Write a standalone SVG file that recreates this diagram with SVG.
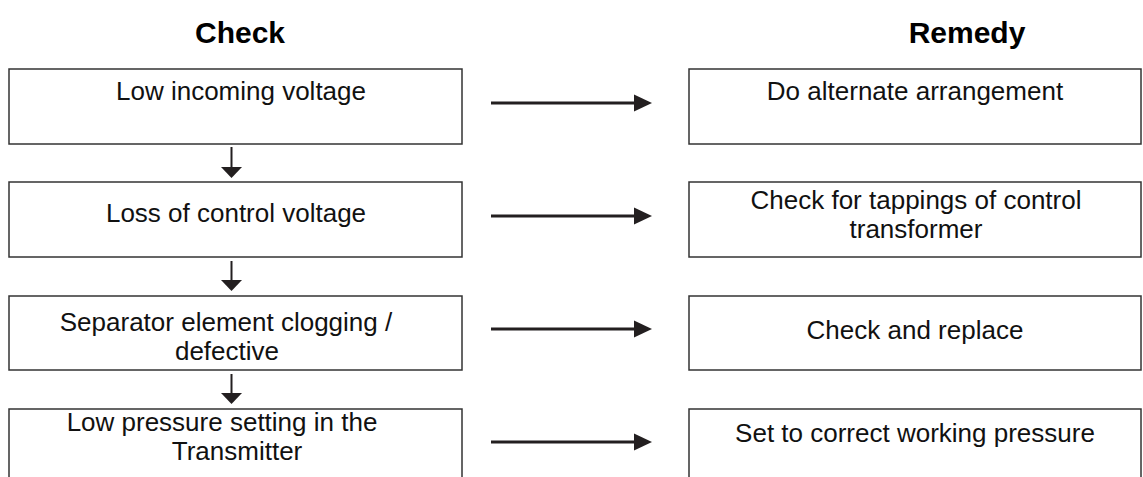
<svg xmlns="http://www.w3.org/2000/svg" width="1143" height="477" viewBox="0 0 1143 477">
<style>
.box{fill:#fff;stroke:#333;stroke-width:1.5}
.t{font-family:"Liberation Sans",Arial,sans-serif;font-size:26px;fill:#111;text-anchor:middle}
.h{font-family:"Liberation Sans",Arial,sans-serif;font-size:30px;font-weight:bold;fill:#000;text-anchor:middle}
.ln{stroke:#231f20;fill:none}
.hd{fill:#231f20}
</style>
<rect width="1143" height="477" fill="#fff"/>
<g id="headers">
<text class="h" x="240" y="43">Check</text>
<text class="h" x="967" y="43">Remedy</text>
</g>
<g id="check1"><rect class="box" x="9" y="69" width="453" height="75"/><text class="t" x="241" y="100">Low incoming voltage</text></g>
<g id="check2"><rect class="box" x="9" y="182" width="453" height="75"/><text class="t" x="236" y="222">Loss of control voltage</text></g>
<g id="check3"><rect class="box" x="9" y="296" width="453" height="74"/><text class="t" x="226" y="331">Separator element clogging /</text><text class="t" x="227" y="360">defective</text></g>
<g id="check4"><rect class="box" x="9" y="409" width="453" height="80"/><text class="t" x="222" y="431">Low pressure setting in the</text><text class="t" x="237" y="460">Transmitter</text></g>
<g id="remedy1"><rect class="box" x="689" y="69" width="452" height="75"/><text class="t" x="915" y="100">Do alternate arrangement</text></g>
<g id="remedy2"><rect class="box" x="689" y="182" width="452" height="75"/><text class="t" x="916" y="209">Check for tappings of control</text><text class="t" x="916" y="238">transformer</text></g>
<g id="remedy3"><rect class="box" x="689" y="296" width="452" height="74"/><text class="t" x="915" y="339">Check and replace</text></g>
<g id="remedy4"><rect class="box" x="689" y="409" width="452" height="80"/><text class="t" x="915" y="442">Set to correct working pressure</text></g>
<g id="connectors">
<line class="ln" x1="491" y1="103" x2="636" y2="103" stroke-width="3"/>
<path class="hd" d="M634,94.5 L652,103 L634,111.5 Z"/>
<line class="ln" x1="491" y1="216" x2="636" y2="216" stroke-width="3"/>
<path class="hd" d="M634,207.5 L652,216 L634,224.5 Z"/>
<line class="ln" x1="491" y1="329" x2="636" y2="329" stroke-width="3"/>
<path class="hd" d="M634,320.5 L652,329 L634,337.5 Z"/>
<line class="ln" x1="491" y1="442" x2="636" y2="442" stroke-width="3"/>
<path class="hd" d="M634,433.5 L652,442 L634,450.5 Z"/>
<line class="ln" x1="231.5" y1="147" x2="231.5" y2="168" stroke-width="2"/>
<path class="hd" d="M221,167 L242,167 L231.5,178 Z"/>
<line class="ln" x1="231.5" y1="261" x2="231.5" y2="281" stroke-width="2"/>
<path class="hd" d="M221,280 L242,280 L231.5,291 Z"/>
<line class="ln" x1="231.5" y1="374" x2="231.5" y2="394" stroke-width="2"/>
<path class="hd" d="M221,393 L242,393 L231.5,404 Z"/>
</g>
</svg>
